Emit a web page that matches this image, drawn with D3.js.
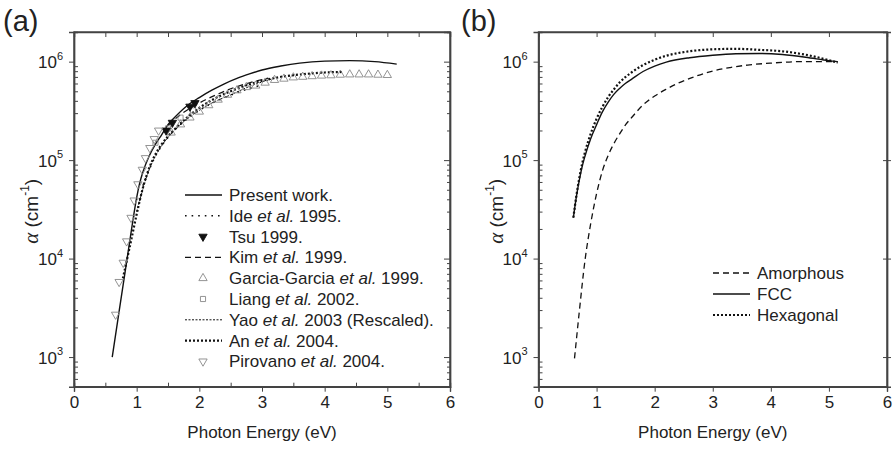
<!DOCTYPE html>
<html>
<head>
<meta charset="utf-8">
<script src="https://cdn.jsdelivr.net/npm/d3@7"></script>
<style>
  body { margin: 0; background: #fff; }
  text { font-family: "Liberation Sans", Arial, sans-serif; fill: #222; }
</style>
</head>
<body>
<script>
// ---- data (a) ----
var presentE = [0.61, 0.7, 0.8, 0.9, 0.95, 1.0, 1.05, 1.1, 1.2, 1.3, 1.4, 1.5, 1.6, 1.8, 2.0, 2.2, 2.4, 2.6, 2.8, 3.0, 3.3, 3.6, 4.0, 4.4, 4.8, 5.15];
var presentA = [1000, 2400, 6300, 16600, 26900, 41700, 58900, 75900, 110000, 145000, 182000, 229000, 269000, 355000, 432000, 513000, 596000, 676000, 750000, 822000, 902000, 966000, 1012000, 1023000, 1000000, 944000];

var ideE = [1.1, 1.3, 1.5, 1.7, 1.9, 2.1, 2.4, 2.7, 3.0];
var ideA = [55000, 110000, 170000, 230000, 290000, 350000, 430000, 510000, 580000];

var tsuE = [1.47, 1.57, 1.85, 1.93];
var tsuA = [200000, 240000, 350000, 380000];

var kimE = [1.5, 1.7, 1.9, 2.1, 2.3, 2.5, 2.8, 3.1];
var kimA = [225000, 290000, 350000, 410000, 470000, 530000, 610000, 680000];

var garciaE = [1.55, 1.7, 1.85, 2.0, 2.15, 2.3, 2.45, 2.6, 2.75, 2.9, 3.05, 3.2, 3.35, 3.5, 3.65, 3.8, 3.95, 4.1, 4.25, 4.4, 4.55, 4.7, 4.85, 5.0];
var garciaA = [190000, 230000, 270000, 310000, 360000, 410000, 460000, 510000, 550000, 570000, 610000, 650000, 670000, 690000, 700000, 710000, 720000, 725000, 735000, 740000, 740000, 740000, 735000, 730000];

var liangE = [1.3, 1.5, 1.7, 1.9];
var liangA = [150000, 210000, 270000, 320000];

var yaoE = [1.0, 1.2, 1.4, 1.6, 1.8, 2.0, 2.2, 2.5, 2.8, 3.2];
var yaoA = [30000, 80000, 140000, 200000, 260000, 320000, 380000, 460000, 560000, 680000];

var anE = [0.78, 0.9, 1.0, 1.1, 1.2, 1.3, 1.4, 1.6, 1.8, 2.0, 2.2, 2.5, 2.8, 3.1, 3.4, 3.7, 4.0, 4.3];
var anA = [6300, 14100, 28200, 52500, 83200, 115000, 145000, 204000, 269000, 339000, 407000, 501000, 589000, 661000, 716000, 750000, 776000, 785000];

var pirovanoE = [0.664, 0.72, 0.785, 0.84, 0.91, 0.96, 1.02, 1.09, 1.14, 1.21, 1.28, 1.35];
var pirovanoA = [2700, 5800, 9100, 15000, 26000, 39000, 57000, 80000, 105000, 133000, 164000, 200000];

// ---- data (b) ----
var amorE = [0.62, 0.7, 0.8, 0.9, 1.0, 1.1, 1.2, 1.3, 1.4, 1.5, 1.6, 1.8, 2.0, 2.2, 2.4, 2.7, 3.0, 3.3, 3.6, 4.0, 4.5, 5.15];
var amorA = [970, 2800, 9550, 22900, 45700, 77600, 112000, 148000, 186000, 229000, 269000, 363000, 447000, 525000, 603000, 708000, 804000, 871000, 923000, 966000, 1000000, 1000000];

var fccE = [0.6, 0.65, 0.7, 0.75, 0.8, 0.9, 1.0, 1.1, 1.2, 1.3, 1.4, 1.5, 1.6, 1.8, 2.0, 2.2, 2.6, 3.0, 3.4, 3.8, 4.2, 4.6, 5.0, 5.15];
var fccA = [26000, 41700, 61700, 85100, 109600, 166000, 229000, 309000, 389000, 468000, 537000, 603000, 661000, 794000, 902000, 989000, 1096000, 1161000, 1202000, 1211000, 1180000, 1109000, 1023000, 1000000];

var hexE = [0.6, 0.65, 0.7, 0.75, 0.8, 0.9, 1.0, 1.1, 1.2, 1.3, 1.4, 1.5, 1.6, 1.8, 2.0, 2.2, 2.6, 3.0, 3.4, 3.8, 4.2, 4.6, 5.0, 5.15];
var hexA = [26000, 42700, 64600, 91200, 120000, 186000, 263000, 347000, 437000, 525000, 617000, 700000, 776000, 923000, 1047000, 1148000, 1274000, 1334000, 1349000, 1318000, 1274000, 1175000, 1035000, 977000];

var xTicks = [0, 1, 2, 3, 4, 5, 6];
var yTicks = [1e3, 1e4, 1e5, 1e6];

function zip(xs, ys) { return xs.map(function(v, i) { return [v, ys[i]]; }); }

var svg = d3.select("body").append("svg")
  .attr("width", 896)
  .attr("height", 450);

var plotTop = 32, plotBottom = 386.7;

function panel(left, right, label, labelX, minorTop, minorRight) {
  var x = d3.scaleLinear().domain([0, 6]).range([left, right]);
  var y = d3.scaleLog().domain([500, 2e6]).range([plotBottom, plotTop]);
  var g = svg.append("g");

  var minors = [];
  [100, 1000, 10000, 100000, 1000000].forEach(function(d) {
    for (var k = 2; k <= 9; k++) if (d * k >= 500 && d * k <= 2e6) minors.push(d * k);
  });

  // bottom axis
  var bx = g.append("g").attr("transform", "translate(0," + plotBottom + ")")
    .call(d3.axisBottom(x).tickValues(xTicks).tickSize(5).tickPadding(4).tickFormat(d3.format("d")));
  bx.selectAll("text").attr("font-size", 17);
  if (minorTop) {
    g.append("g").attr("transform", "translate(0," + plotBottom + ")")
      .call(d3.axisBottom(x).tickValues([0.5, 1.5, 2.5, 3.5, 4.5, 5.5]).tickSize(-4).tickFormat(""));
  }
  // top axis
  g.append("g").attr("transform", "translate(0," + plotTop + ")")
    .call(d3.axisTop(x).tickValues(minorTop ? [0.5, 1, 1.5, 2, 2.5, 3, 3.5, 4, 4.5, 5, 5.5] : [1, 2, 3, 4, 5]).tickSize(-5).tickFormat(""));

  // left axis
  var ly = g.append("g").attr("transform", "translate(" + left + ",0)")
    .call(d3.axisLeft(y).tickValues(yTicks).tickSize(5).tickPadding(6));
  ly.selectAll(".tick text").each(function(d) {
    var t = d3.select(this).text("").attr("font-size", 17).attr("dy", "0.35em");
    t.append("tspan").text("10");
    t.append("tspan").attr("font-size", 11).attr("dy", "-0.75em").text(Math.round(Math.log10(d)));
  });
  g.append("g").attr("transform", "translate(" + left + ",0)")
    .call(d3.axisLeft(y).tickValues(minors).tickSize(-4).tickFormat(""));

  // right axis
  g.append("g").attr("transform", "translate(" + right + ",0)")
    .call(d3.axisRight(y).tickValues(yTicks).tickSize(minorRight ? -6 : 4).tickFormat(""));
  if (minorRight) {
    g.append("g").attr("transform", "translate(" + right + ",0)")
      .call(d3.axisRight(y).tickValues(minors).tickSize(-3).tickFormat(""));
  } else {
    g.append("g").attr("transform", "translate(" + right + ",0)")
      .call(d3.axisRight(y).tickValues(yTicks).tickSize(-4).tickFormat(""));
  }

  g.selectAll(".domain").attr("stroke", "#444").attr("stroke-width", 1.4);
  g.selectAll(".tick line").attr("stroke", "#444").attr("stroke-width", 1);
  g.append("rect").attr("x", left).attr("y", plotTop).attr("width", right - left).attr("height", plotBottom - plotTop)
    .attr("fill", "none").attr("stroke", "#444").attr("stroke-width", 1.4);

  // titles
  g.append("text").attr("x", (left + right) / 2).attr("y", 438)
    .attr("text-anchor", "middle").attr("font-size", 17).text("Photon Energy (eV)");
  var yt = g.append("text").attr("transform", "translate(" + (left - 36) + "," + ((plotTop + plotBottom) / 2 + 2) + ") rotate(-90)")
    .attr("text-anchor", "middle").attr("font-size", 19);
  yt.append("tspan").attr("font-style", "italic").attr("font-family", "Liberation Serif, serif").attr("font-size", 21).text("\u03b1");
  yt.append("tspan").text(" (cm");
  yt.append("tspan").attr("font-size", 12).attr("dy", "-0.75em").text("-1");
  yt.append("tspan").attr("dy", "0.47em").text(")");

  g.append("text").attr("x", labelX).attr("y", 31).attr("font-size", 29).text(label);
  return { g: g, x: x, y: y };
}

function addLine(p, xs, ys, dash, width) {
  var line = d3.line().x(function(d) { return p.x(d[0]); }).y(function(d) { return p.y(d[1]); }).curve(d3.curveMonotoneX);
  p.g.append("path").datum(zip(xs, ys))
    .attr("d", line).attr("fill", "none").attr("stroke", "#111")
    .attr("stroke-width", width).attr("stroke-dasharray", dash);
}

var symUp = d3.symbol().type(d3.symbolTriangle).size(30);
var symSq = d3.symbol().type(d3.symbolSquare).size(26);

function addMarks(p, xs, ys, kind) {
  var pts = zip(xs, ys);
  p.g.append("g").selectAll("path").data(pts).enter().append("path")
    .attr("d", kind === "square" ? symSq : symUp)
    .attr("transform", function(d) {
      return "translate(" + p.x(d[0]) + "," + p.y(d[1]) + ")" + (kind === "down" || kind === "fdown" ? " rotate(180)" : "");
    })
    .attr("fill", kind === "fdown" ? "#111" : "none")
    .attr("stroke", kind === "fdown" ? "#111" : "#888")
    .attr("stroke-width", 0.9);
}

// ---- panel (a) ----
var pa = panel(74, 450, "(a)", 3, true, true);
addLine(pa, presentE, presentA, null, 1.4);
addLine(pa, ideE, ideA, "1.6,5", 1.6);
addLine(pa, kimE, kimA, "6,4", 1.2);
addLine(pa, yaoE, yaoA, "2,1.5", 1);
addLine(pa, anE, anA, "2,2", 2.2);
addMarks(pa, garciaE, garciaA, "up");
addMarks(pa, liangE, liangA, "square");
addMarks(pa, tsuE, tsuA, "fdown");
addMarks(pa, pirovanoE, pirovanoA, "down");

var legA = [
  { t: ["Present work."], dash: null, w: 1.4 },
  { t: ["Ide ", "et al.", " 1995."], dash: "1.6,5", w: 1.6 },
  { t: ["Tsu 1999."], mark: "fdown" },
  { t: ["Kim ", "et al.", " 1999."], dash: "6,4", w: 1.2 },
  { t: ["Garcia-Garcia ", "et al.", " 1999."], mark: "up" },
  { t: ["Liang ", "et al.", " 2002."], mark: "square" },
  { t: ["Yao ", "et al.", " 2003 (Rescaled)."], dash: "2,1.5", w: 1 },
  { t: ["An ", "et al.", " 2004."], dash: "2,2", w: 2.2 },
  { t: ["Pirovano ", "et al.", " 2004."], mark: "down" }
];

function legend(p, items, x0, y0, step) {
  items.forEach(function(it, i) {
    var yy = y0 + i * step;
    if (it.mark) {
      p.g.append("path").attr("d", it.mark === "square" ? symSq : symUp)
        .attr("transform", "translate(" + (x0 + 18) + "," + yy + ")" + (it.mark === "down" || it.mark === "fdown" ? " rotate(180)" : ""))
        .attr("fill", it.mark === "fdown" ? "#111" : "none")
        .attr("stroke", it.mark === "fdown" ? "#111" : "#888").attr("stroke-width", 0.9);
    } else {
      p.g.append("line").attr("x1", x0).attr("x2", x0 + 37).attr("y1", yy).attr("y2", yy)
        .attr("stroke", "#111").attr("stroke-width", it.w).attr("stroke-dasharray", it.dash);
    }
    var tx = p.g.append("text").attr("x", x0 + 44).attr("y", yy).attr("dy", "0.35em").attr("font-size", 17);
    it.t.forEach(function(s, k) {
      tx.append("tspan").attr("font-style", k === 1 ? "italic" : null).text(s);
    });
  });
}
legend(pa, legA, 185, 195, 20.8);

// ---- panel (b) ----
var pb = panel(538.5, 887, "(b)", 461, false, false);
addLine(pb, amorE, amorA, "6,4", 1.3);
addLine(pb, fccE, fccA, null, 1.4);
addLine(pb, hexE, hexA, "2,2", 2.2);

legend(pb, [
  { t: ["Amorphous"], dash: "6,4", w: 1.3 },
  { t: ["FCC"], dash: null, w: 1.4 },
  { t: ["Hexagonal"], dash: "2,2", w: 2.2 }
], 713, 273, 21);
</script>
</body>
</html>
